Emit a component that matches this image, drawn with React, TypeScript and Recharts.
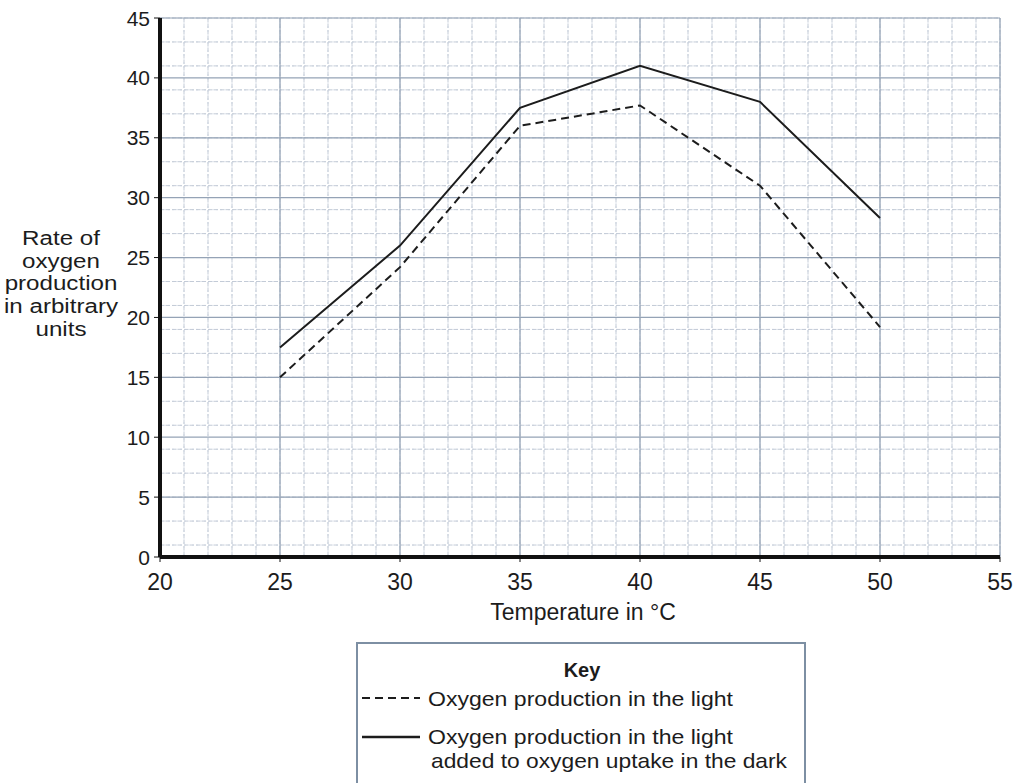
import { CartesianGrid, Line, LineChart, XAxis, YAxis } from 'recharts'

const temps = [25, 30, 35, 40, 45, 50]
const lightOnly = [15, 24.2, 36, 37.7, 31, 19.2]
const lightPlusDark = [17.5, 26, 37.5, 41, 38, 28.3]

const xTicks = [20, 25, 30, 35, 40, 45, 50, 55]
const yTicks = [0, 5, 10, 15, 20, 25, 30, 35, 40, 45]

const xLabel = 'Temperature in °C'
const yLabelLines = ['Rate of', 'oxygen', 'production', 'in arbitrary', 'units']
const keyTitle = 'Key'
const keyLight = 'Oxygen production in the light'
const keyTotal = ['Oxygen production in the light', 'added to oxygen uptake in the dark']

// graph-paper lines
const range = (a: number, b: number, s: number) => {
  const out: number[] = []
  for (let v = a; v <= b + 1e-9; v += s) out.push(+v.toFixed(2))
  return out
}
const xFine = range(20, 55, 0.5)
const yFine = range(0, 45, 0.5)
const xMinor = range(20, 55, 1)
const yMinor = range(0, 45, 1)

const data = temps.map((t, i) => ({ t, light: lightOnly[i], total: lightPlusDark[i] }))

const font = '"Liberation Sans", Arial, sans-serif'
const ink = '#1c1c1c'

function XTick({ x, y, payload }: any) {
  return (
    <text x={x} y={y + 26} textAnchor="middle" fill={ink} fontSize={23} fontFamily={font}>
      {payload.value}
    </text>
  )
}

function YTick({ x, y, payload }: any) {
  return (
    <text x={x - 2} y={y + 7.5} textAnchor="end" fill={ink} fontSize={21} fontFamily={font}>
      {payload.value}
    </text>
  )
}

export default function App() {
  return (
    <div style={{ position: 'absolute', left: 0, top: 0, width: 1018, height: 783, background: '#fff', fontFamily: font, overflow: 'hidden' }}>
      <LineChart width={1018} height={640} data={data} margin={{ top: 18, right: 18, bottom: 43, left: 100 }}>
        <CartesianGrid verticalValues={xFine} horizontalValues={yFine} stroke="#dde2ea" strokeDasharray="2 2" />
        <CartesianGrid verticalValues={xMinor} horizontalValues={yMinor} stroke="#c3cbd7" strokeDasharray="4 2" />
        <CartesianGrid verticalValues={xTicks} horizontalValues={yTicks} stroke="#95a3b6" strokeWidth={1.2} />
        <XAxis
          dataKey="t"
          type="number"
          domain={[20, 55]}
          ticks={xTicks}
          height={40}
          axisLine={{ stroke: '#111', strokeWidth: 4 }}
          tickLine={{ stroke: '#111' }}
          tickSize={5}
          tick={XTick}
        />
        <YAxis
          type="number"
          domain={[0, 45]}
          ticks={yTicks}
          width={60}
          axisLine={{ stroke: '#111', strokeWidth: 4 }}
          tickLine={{ stroke: '#111' }}
          tickSize={6}
          tick={YTick}
        />
        <Line dataKey="light" stroke={ink} strokeWidth={2} strokeDasharray="8 5" dot={false} isAnimationActive={false} />
        <Line dataKey="total" stroke={ink} strokeWidth={2} dot={false} isAnimationActive={false} />
      </LineChart>

      {/* axis titles and key */}
      <svg width={1018} height={783} style={{ position: 'absolute', left: 0, top: 0, pointerEvents: 'none' }} fontFamily={font} fill={ink}>
        <text x={583} y={620} textAnchor="middle" fontSize={23}>
          {xLabel}
        </text>
        <g transform="translate(61,0) scale(1.15,1)">
          {yLabelLines.map((l, i) => (
            <text key={l} x={0} y={245 + i * 22.7} textAnchor="middle" fontSize={21}>
              {l}
            </text>
          ))}
        </g>

        <rect x={357} y={643} width={448} height={160} fill="none" stroke="#7d8fa3" strokeWidth={2} />
        <text x={582} y={677} textAnchor="middle" fontSize={20} fontWeight="bold">
          {keyTitle}
        </text>
        <line x1={362} y1={698} x2={420} y2={698} stroke={ink} strokeWidth={2} strokeDasharray="8 5" />
        <text x={428} y={706} fontSize={21} textLength={305} lengthAdjust="spacingAndGlyphs">
          {keyLight}
        </text>
        <line x1={362} y1={737} x2={420} y2={737} stroke={ink} strokeWidth={2.5} />
        <text x={428} y={744} fontSize={21} textLength={305} lengthAdjust="spacingAndGlyphs">
          {keyTotal[0]}
        </text>
        <text x={431} y={768} fontSize={21} textLength={356} lengthAdjust="spacingAndGlyphs">
          {keyTotal[1]}
        </text>
      </svg>
    </div>
  )
}
